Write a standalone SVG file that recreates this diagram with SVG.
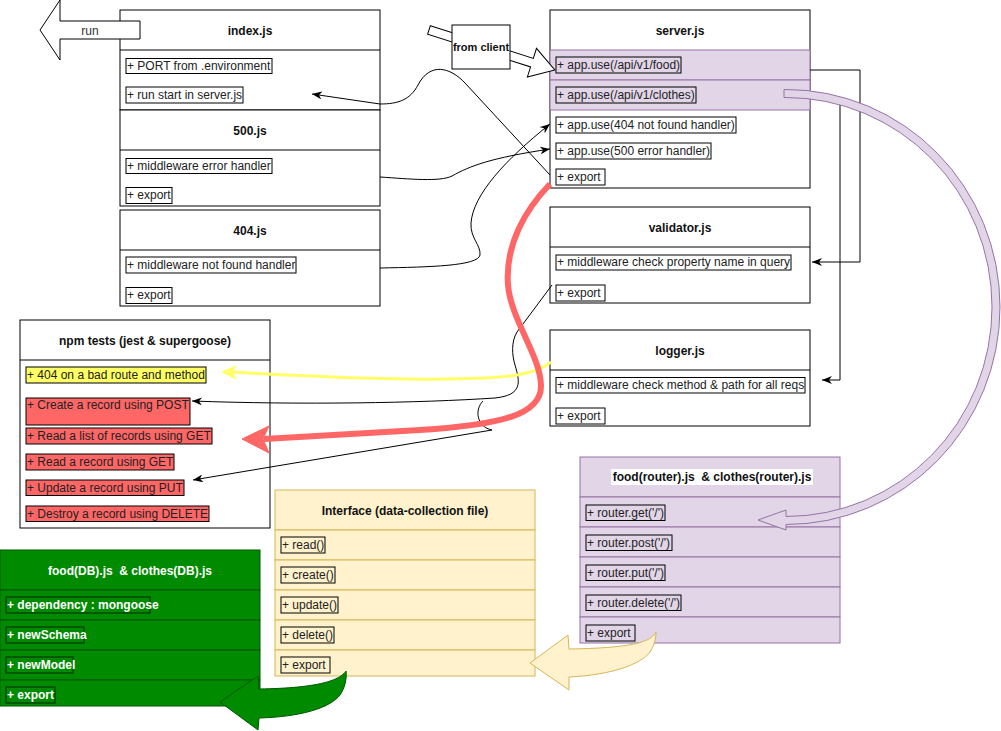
<svg xmlns="http://www.w3.org/2000/svg" width="1001" height="731" viewBox="0 0 1001 731">
<style>
.box{fill:#fff;stroke:#000;stroke-width:1}
.t{font-family:"Liberation Sans",Arial,Helvetica,sans-serif;font-size:12px;fill:#222}
.ti{font-family:"Liberation Sans",Arial,Helvetica,sans-serif;font-size:12px;font-weight:bold;fill:#111;text-anchor:middle}
.lb{fill:none;stroke:#000;stroke-width:1}
.pur{fill:#e1d5e7;stroke:#9673a6;stroke-width:1}
.yel{fill:#fff2cc;stroke:#d6b656;stroke-width:1}
.grn{fill:#008a00;stroke:#005700;stroke-width:1}
.wt{fill:#fff;font-weight:bold}
.conn{fill:none;stroke:#000;stroke-width:1}
.red{fill:#ff6666;stroke:#000;stroke-width:1}
</style>
<defs>
<marker id="ah" viewBox="0 0 10 8" refX="10" refY="4" markerWidth="10" markerHeight="8" orient="auto" markerUnits="userSpaceOnUse">
<path d="M0,0 L10,4 L0,8 L3,4 Z" fill="#000"/>
</marker>
</defs>

<g id="index">
<rect class="box" x="120" y="10" width="260" height="100"/>
<line class="lb" x1="120" y1="50" x2="380" y2="50"/>
<text class="ti" x="250" y="35">index.js</text>
<rect class="lb" x="126" y="58.5" width="146" height="15"/>
<text class="t" x="127" y="70">+ PORT from .environment</text>
<rect class="lb" x="126" y="87" width="117" height="16"/>
<text class="t" x="127" y="99">+ run start in server.js</text>
</g>

<g id="run-arrow">
<polygon points="140,21 60,21 60,0 40,30 60,60 60,39 140,39" fill="#fff" stroke="#000" stroke-width="1"/>
<text class="t" x="90" y="35" text-anchor="middle" style="fill:#333">run</text>
</g>

<g id="n500">
<rect class="box" x="120" y="110" width="260" height="96"/>
<line class="lb" x1="120" y1="150" x2="380" y2="150"/>
<text class="ti" x="250" y="135">500.js</text>
<rect class="lb" x="126" y="158.5" width="146" height="15"/>
<text class="t" x="127" y="170">+ middleware error handler</text>
<rect class="lb" x="126" y="187.5" width="46" height="16"/>
<text class="t" x="127" y="199">+ export</text>
</g>

<g id="n404">
<rect class="box" x="120" y="210" width="260" height="96"/>
<line class="lb" x1="120" y1="250" x2="380" y2="250"/>
<text class="ti" x="250" y="235">404.js</text>
<rect class="lb" x="126" y="257" width="170" height="16"/>
<text class="t" x="127" y="269">+ middleware not found handler</text>
<rect class="lb" x="126" y="287.5" width="46" height="16"/>
<text class="t" x="127" y="299">+ export</text>
</g>

<g id="server">
<rect class="box" x="550" y="10" width="260" height="178"/>
<text class="ti" x="680" y="35">server.js</text>
<rect class="pur" x="550" y="50" width="260" height="30"/>
<rect class="pur" x="550" y="80" width="260" height="30"/>
<rect class="lb" x="556" y="57" width="125" height="16"/>
<text class="t" x="557" y="69">+ app.use(/api/v1/food)</text>
<rect class="lb" x="556" y="87" width="140" height="16"/>
<text class="t" x="557" y="99">+ app.use(/api/v1/clothes)</text>
<rect class="lb" x="556" y="117" width="180" height="16"/>
<text class="t" x="557" y="129">+ app.use(404 not found handler)</text>
<rect class="lb" x="556" y="143" width="155" height="16"/>
<text class="t" x="557" y="155">+ app.use(500 error handler)</text>
<rect class="lb" x="556" y="169" width="49" height="16"/>
<text class="t" x="557" y="181">+ export</text>
</g>

<g id="client-arrow">
<polygon transform="translate(429,30) rotate(17.6)" points="0,-4.5 108,-4.5 108,-15 132,0 108,15 108,4.5 0,4.5" fill="#fff" stroke="#000" stroke-width="1"/>
</g>
<g id="from-client">
<rect class="box" x="452" y="25" width="58" height="44"/>
<text class="ti" x="481" y="51" style="font-size:11px">from client</text>
</g>

<g id="validator">
<rect class="box" x="550" y="207" width="260" height="96"/>
<line class="lb" x1="550" y1="247" x2="810" y2="247"/>
<text class="ti" x="680" y="232">validator.js</text>
<rect class="lb" x="556" y="255" width="235" height="15"/>
<text class="t" x="557" y="266">+ middleware check property name in query</text>
<rect class="lb" x="556" y="285" width="49" height="16"/>
<text class="t" x="557" y="297">+ export</text>
</g>

<g id="logger">
<rect class="box" x="550" y="330" width="260" height="96"/>
<line class="lb" x1="550" y1="370" x2="810" y2="370"/>
<text class="ti" x="680" y="355">logger.js</text>
<rect class="lb" x="556" y="377.5" width="249" height="15.5"/>
<text class="t" x="557" y="389">+ middleware check method &amp; path for all reqs</text>
<rect class="lb" x="556" y="408" width="49" height="16"/>
<text class="t" x="557" y="420">+ export</text>
</g>

<g id="tests">
<rect class="box" x="20" y="320" width="250" height="208"/>
<line class="lb" x1="20" y1="360" x2="270" y2="360"/>
<text class="ti" x="145" y="345">npm tests (jest &amp; supergoose)</text>
<rect x="26" y="367" width="180" height="16" fill="#ffff66" stroke="#000"/>
<text class="t" x="27" y="379">+ 404 on a bad route and method</text>
<rect class="red" x="26" y="398" width="164" height="27"/>
<text class="t" x="27" y="409">+ Create a record using POST</text>
<rect class="red" x="26" y="428" width="186" height="16"/>
<text class="t" x="27" y="440">+ Read a list of records using GET</text>
<rect class="red" x="26" y="454" width="148" height="16"/>
<text class="t" x="27" y="466">+ Read a record using GET</text>
<rect class="red" x="26" y="480" width="158" height="15.5"/>
<text class="t" x="27" y="492">+ Update a record using PUT</text>
<rect class="red" x="26" y="506" width="183" height="15.5"/>
<text class="t" x="27" y="518">+ Destroy a record using DELETE</text>
</g>

<g id="interface">
<rect class="yel" x="275" y="490" width="260" height="40"/>
<text class="ti" x="405" y="515">Interface (data-collection file)</text>
<rect class="yel" x="275" y="530" width="260" height="30"/>
<rect class="yel" x="275" y="560" width="260" height="30"/>
<rect class="yel" x="275" y="590" width="260" height="30"/>
<rect class="yel" x="275" y="620" width="260" height="30"/>
<rect class="yel" x="275" y="650" width="260" height="26"/>
<rect class="lb" x="281" y="537" width="44" height="16"/>
<text class="t" x="282" y="549">+ read()</text>
<rect class="lb" x="281" y="567" width="54" height="16"/>
<text class="t" x="282" y="579">+ create()</text>
<rect class="lb" x="281" y="597" width="57" height="16"/>
<text class="t" x="282" y="609">+ update()</text>
<rect class="lb" x="281" y="627" width="53" height="16"/>
<text class="t" x="282" y="639">+ delete()</text>
<rect class="lb" x="281" y="657" width="49" height="16"/>
<text class="t" x="282" y="669">+ export</text>
</g>

<g id="router">
<rect class="pur" x="580" y="457" width="260" height="40"/>
<rect x="611" y="469" width="202" height="16" fill="#fff"/>
<text class="ti" x="712" y="481" xml:space="preserve">food(router).js  &amp; clothes(router).js</text>
<rect class="pur" x="580" y="497" width="260" height="30"/>
<rect class="pur" x="580" y="527" width="260" height="30"/>
<rect class="pur" x="580" y="557" width="260" height="30"/>
<rect class="pur" x="580" y="587" width="260" height="30"/>
<rect class="pur" x="580" y="617" width="260" height="26"/>
<rect class="lb" x="586" y="505" width="79" height="15.5"/>
<text class="t" x="587" y="517">+ router.get('/')</text>
<rect class="lb" x="586" y="535" width="86" height="15.5"/>
<text class="t" x="587" y="547">+ router.post('/')</text>
<rect class="lb" x="586" y="565" width="79" height="15.5"/>
<text class="t" x="587" y="577">+ router.put('/')</text>
<rect class="lb" x="586" y="595" width="95" height="15.5"/>
<text class="t" x="587" y="607">+ router.delete('/')</text>
<rect class="lb" x="586" y="625" width="49" height="16"/>
<text class="t" x="587" y="637">+ export</text>
</g>

<g id="db">
<rect class="grn" x="0" y="550" width="260" height="40"/>
<text class="ti" x="130" y="575" style="fill:#fff" xml:space="preserve">food(DB).js  &amp; clothes(DB).js</text>
<rect class="grn" x="0" y="590" width="260" height="30"/>
<rect class="grn" x="0" y="620" width="260" height="30"/>
<rect class="grn" x="0" y="650" width="260" height="30"/>
<rect class="grn" x="0" y="680" width="260" height="26"/>
<rect class="lb" x="6" y="597" width="144" height="16" style="stroke:#002800"/>
<text class="t wt" x="7" y="609">+ dependency : mongoose</text>
<rect class="lb" x="6" y="627" width="78" height="16" style="stroke:#002800"/>
<text class="t wt" x="7" y="639">+ newSchema</text>
<rect class="lb" x="6" y="657" width="67" height="16" style="stroke:#002800"/>
<text class="t wt" x="7" y="669">+ newModel</text>
<rect class="lb" x="6" y="687" width="49" height="16" style="stroke:#002800"/>
<text class="t wt" x="7" y="699">+ export</text>
</g>

<g id="connectors">
<path class="conn" d="M 550 175 L 465 83 C 450 67, 430 62, 418 85 C 410 100, 398 104, 380 104 L 312 94" marker-end="url(#ah)"/>
<path class="conn" d="M 380 177 C 410 179, 440 182, 452 176 C 470 166, 490 158, 550 149" marker-end="url(#ah)"/>
<path class="conn" d="M 380 268 C 430 267, 478 266, 480 255 C 481 245, 470 238, 471 223 C 473 195, 505 160, 550 124" marker-end="url(#ah)"/>
<path class="conn" d="M 552 285 L 517 332 C 511 342, 512 355, 515 365 C 520 382, 523 395, 495 398 C 420 403, 300 405, 192 401" marker-end="url(#ah)"/>
<path class="conn" d="M 483 401 C 474 410, 477 427, 492 430 L 193 480" marker-end="url(#ah)"/>
<path class="conn" d="M 810 70 L 860 70 L 860 262 L 812 262" marker-end="url(#ah)"/>
<path class="conn" d="M 810 98 L 840 98 L 840 380 L 822 380" marker-end="url(#ah)"/>
<path d="M 551 362 C 535 375, 510 378, 450 379 C 380 380, 300 376, 232 372" fill="none" stroke="#ffff66" stroke-width="3"/>
<path d="M 222 372 L 236 366 L 232 372 L 236 379 Z" fill="#ffff66" stroke="#ffff66" stroke-width="1"/>
<path d="M 550 184 C 525 210, 505 245, 508 285 C 511 320, 540 355, 541 385 C 542 415, 500 425, 420 430 L 264 439" fill="none" stroke="#ff6666" stroke-width="6"/>
<path d="M 242 439 L 269 426 L 263 439 L 269 453 Z" fill="#ff6666" stroke="#ff6666" stroke-width="1"/>
<path d="M 784 89.5 L 786 89.5 A 214 217.5 0 0 1 786 524.5 L 786 530 L 758 520 L 786 510 L 786 516.5 A 206 209.5 0 0 0 786 97.5 L 784 97.5 Z" fill="#e1d5e7" stroke="#9673a6" stroke-width="1"/>
<path d="M 656 632 C 652 640, 640 648, 569 649 L 568 635 L 530 663 L 569 690 L 569 677 C 610 675, 640 665, 650 652 C 654 646, 656 638, 656 632 Z" fill="#fff2cc" stroke="#d6b656" stroke-width="1"/>
<path d="M 346 671 C 340 680, 320 688, 259 689 L 258 676 L 220 702 L 258 730 L 259 718 C 300 717, 330 708, 340 695 C 345 688, 347 678, 346 671 Z" fill="#008a00" stroke="#005700" stroke-width="1"/>
</g>
</svg>
